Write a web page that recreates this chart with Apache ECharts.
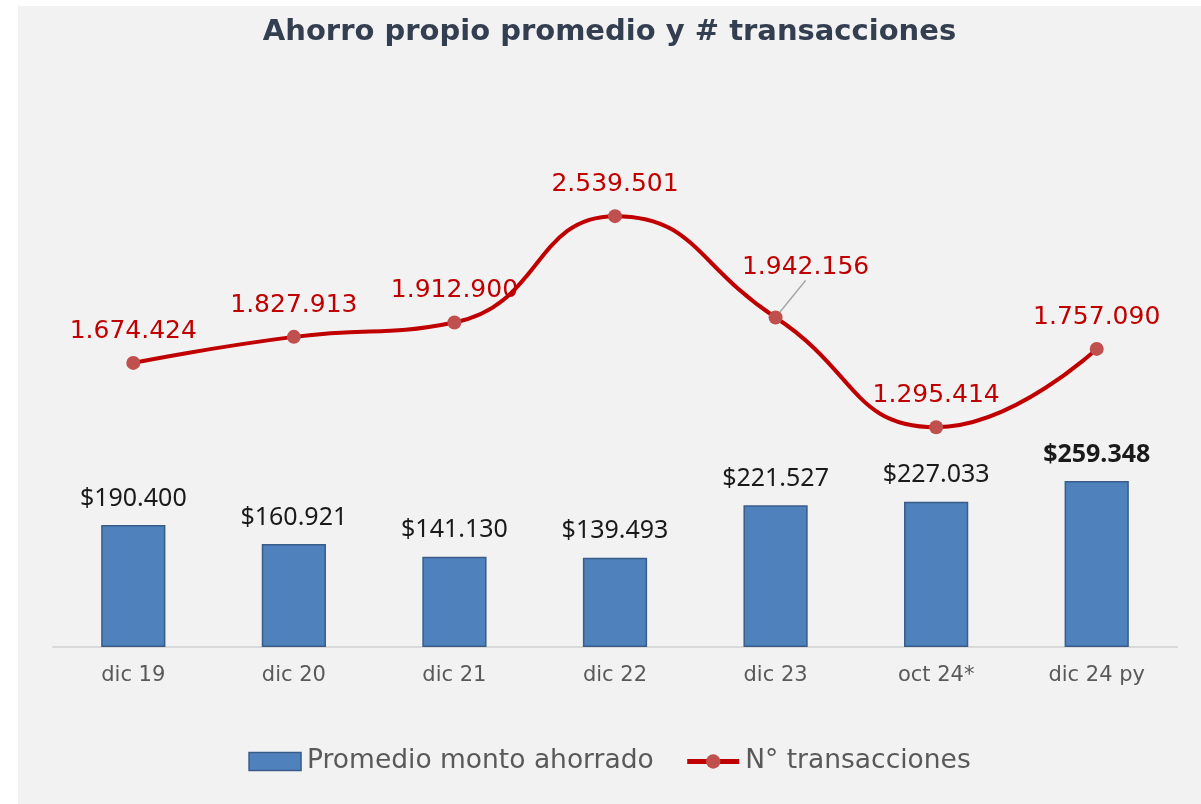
<!DOCTYPE html>
<html>
<head>
<meta charset="utf-8">
<script src="https://cdn.jsdelivr.net/npm/echarts@6/dist/echarts.min.js"></script>
<style>
  html, body { margin: 0; padding: 0; background: #ffffff; }
  #chart { position: absolute; left: 18px; top: 6px; width: 1183px; height: 798px; background: #f2f2f2; }
</style>
</head>
<body>
<div id="chart"></div>
<script>
const categories = ['dic 19', 'dic 20', 'dic 21', 'dic 22', 'dic 23', 'oct 24*', 'dic 24 py']
const montoAhorrado = [190400, 160921, 141130, 139493, 221527, 227033, 259348]
const transacciones = [1674424, 1827913, 1912900, 2539501, 1942156, 1295414, 1757090]

// formato con punto de miles (es-CL)
function miles(v) {
  return String(v).replace(/\B(?=(\d{3})+(?!\d))/g, '.')
}

const chart = echarts.init(document.getElementById('chart'))

chart.setOption({
  backgroundColor: '#f2f2f2',
  animation: false,
  title: {
    text: 'Ahorro propio promedio y # transacciones',
    left: 'center',
    top: 7,
    textStyle: {
      fontFamily: 'DejaVu Sans',
      fontSize: 29,
      fontWeight: 'bold',
      color: '#333f50'
    }
  },
  legend: {
    bottom: 24,
    left: 'center',
    itemWidth: 52,
    itemHeight: 18,
    itemGap: 31,
    textStyle: {
      fontFamily: 'DejaVu Sans',
      fontSize: 26.5,
      color: '#595959',
      padding: [0, 0, 0, 1]
    },
    data: [
      { name: 'Promedio monto ahorrado', icon: 'rect', itemStyle: { borderColor: '#385d8a', borderWidth: 1.5 } },
      { name: 'N° transacciones', lineStyle: { color: '#c00000', width: 5 } }
    ]
  },
  grid: {
    left: 35,
    right: 24,
    top: 132,
    bottom: 157
  },
  xAxis: {
    type: 'category',
    data: categories,
    axisTick: { show: false },
    axisLine: { lineStyle: { color: '#d9d9d9', width: 2 } },
    axisLabel: {
      margin: 18,
      fontFamily: 'DejaVu Sans',
      fontSize: 21,
      color: '#595959'
    }
  },
  yAxis: [
    {
      type: 'value',
      min: 0,
      max: 795000,
      show: false,
      splitLine: { show: false }
    },
    {
      type: 'value',
      min: 0,
      max: 3000000,
      show: false,
      splitLine: { show: false }
    }
  ],
  series: [
    {
      name: 'Promedio monto ahorrado',
      type: 'bar',
      barWidth: '40%',
      yAxisIndex: 0,
      itemStyle: {
        color: '#4f81bd',
        borderColor: '#385d8a',
        borderWidth: 1.5
      },
      label: {
        show: true,
        position: 'top',
        distance: 14,
        fontFamily: 'Noto Sans',
        fontSize: 25,
        color: '#1a1a1a',
        formatter: p => '$' + miles(p.value)
      },
      data: montoAhorrado.map((v, i) => i === montoAhorrado.length - 1
        ? { value: v, label: { fontWeight: 'bold' } }
        : v)
    },
    {
      name: 'N° transacciones',
      type: 'line',
      yAxisIndex: 1,
      smooth: 0.5,
      symbol: 'circle',
      symbolSize: 14,
      z: 3,
      lineStyle: { color: '#c00000', width: 4 },
      itemStyle: { color: '#c0504d' },
      label: {
        show: true,
        position: 'top',
        distance: 12,
        fontFamily: 'DejaVu Sans',
        fontSize: 25,
        color: '#c00000',
        formatter: p => miles(p.value)
      },
      labelLayout: function (params) {
        if (params.dataIndex === 4) {
          return { dx: 30, dy: -18 }
        }
      },
      data: transacciones.map((v, i) => i === 4
        ? { value: v, labelLine: { show: true, lineStyle: { color: '#a6a6a6', width: 1.5 } } }
        : v)
    }
  ]
})
</script>
</body>
</html>
